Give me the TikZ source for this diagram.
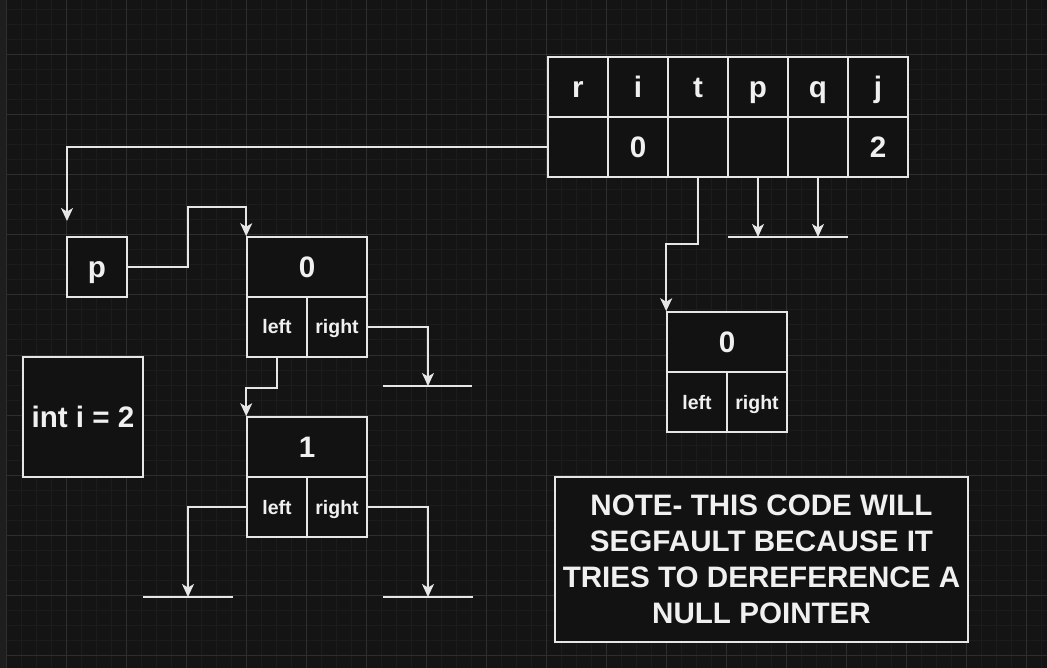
\documentclass[tikz,border=0pt]{standalone}
\usepackage{fontspec}
\setmainfont{Liberation Sans}
\usetikzlibrary{arrows.meta}
\definecolor{bgc}{HTML}{141414}
\definecolor{fillc}{HTML}{121212}
\definecolor{minorc}{HTML}{1C1C1C}
\definecolor{majorc}{HTML}{2E2E2E}
\definecolor{stripc}{HTML}{1E1E1E}
\definecolor{linec}{HTML}{E6E6E6}
\definecolor{textc}{HTML}{F0F0F0}
\begin{document}
\begin{tikzpicture}[x=1pt, y=-1pt,
  box/.style={draw=linec, fill=fillc, line width=1.6pt, text=textc, inner sep=0pt,
    minimum width=60pt, minimum height=60pt, text height=21.2pt, text depth=0pt,
    font=\bfseries\fontsize{29.6}{36}\selectfont},
  wide/.style={box, minimum width=120pt},
  half/.style={box, text height=14pt, font=\bfseries\fontsize{19.5}{23}\selectfont},
  ptr/.style={draw=linec, line width=1.5pt, -{Stealth[length=13pt, width=12pt, inset=3.5pt]}},
  ground/.style={draw=linec, line width=1.5pt}]
\useasboundingbox (0,0) rectangle (1047,668);
\fill[bgc] (0,0) rectangle (1047,668);
\foreach \x in {6.7,21.7,...,1047} \draw[minorc, line width=1pt] (\x,0) -- (\x,668);
\foreach \y in {10,25,...,668} \draw[minorc, line width=1pt] (7,\y) -- (1047,\y);
\foreach \x in {6.7,66.7,...,1047} \draw[majorc, line width=1pt] (\x,0) -- (\x,668);
\foreach \y in {55,115,...,668} \draw[majorc, line width=1pt] (7,\y) -- (1047,\y);
\fill[stripc] (0,0) rectangle (6,668);

\foreach \n/\v [count=\k from 0] in {r/,i/0,t/,p/,q/,j/2} {
  \node[box] (h\n) at (578+60*\k,87) {\n};
  \node[box] (v\n) at (578+60*\k,147) {\v};
}

\node[box] (pbox) at (97,267) {p};
\node[box, minimum width=120pt, minimum height=120pt] (ibox) at (83,417) {int i = 2};

\node[wide] (a0) at (307,267) {0};
\node[half] (a0l) at (277,327) {left};
\node[half] (a0r) at (337,327) {right};

\node[wide] (b1) at (307,447) {1};
\node[half] (b1l) at (277,507) {left};
\node[half] (b1r) at (337,507) {right};

\node[wide] (c0) at (727,342) {0};
\node[half] (c0l) at (697,402) {left};
\node[half] (c0r) at (757,402) {right};

\node[box, minimum width=413pt, minimum height=165pt, align=center,
  text height=, text depth=, font=\bfseries\fontsize{29.6}{36}\selectfont] (note) at (761.5,559.5)
  {NOTE- THIS CODE WILL\\SEGFAULT BECAUSE IT\\TRIES TO DEREFERENCE A\\NULL POINTER};

\coordinate (ptip) at (67,221);
\coordinate (a0null) at (428,386);
\coordinate (b1lnull) at (188,597);
\coordinate (b1rnull) at (428,597);
\coordinate (pnull) at (758,237);
\coordinate (qnull) at (818,237);

\draw[ptr] (vr.west) -| (ptip);
\draw[ptr] (pbox.east) -| (188,207) -| (a0.north west);
\draw[ptr] (a0r.east) -| (a0null);
\draw[ptr] (a0l.south) -- ++(0,30) -| (b1.north west);
\draw[ptr] (b1l.west) -| (b1lnull);
\draw[ptr] (b1r.east) -| (b1rnull);
\draw[ptr] (vt.south) -- ++(0,66) -| (c0.north west);
\draw[ptr] (vp.south) -- (pnull);
\draw[ptr] (vq.south) -- (qnull);

\draw[ground] (383,386) -- (472,386);
\draw[ground] (143,597) -- (233,597);
\draw[ground] (383,597) -- (473,597);
\draw[ground] (728,237) -- (848,237);
\end{tikzpicture}
\end{document}
